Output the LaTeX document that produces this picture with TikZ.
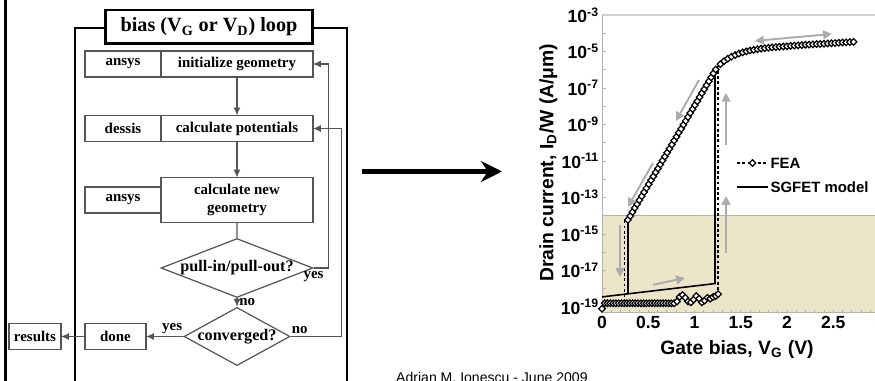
\documentclass[tikz,border=0pt]{standalone}
\usepackage{fontspec}
\setmainfont{Liberation Serif}
\setsansfont{Liberation Sans}
\usetikzlibrary{arrows.meta, positioning, shapes.geometric}

\definecolor{offshade}{RGB}{237,229,200}
\definecolor{sweepgray}{RGB}{172,172,172}
\definecolor{boxline}{RGB}{85,85,85}

\tikzset{
  cellbox/.style={draw=boxline, line width=0.7pt, outer sep=0pt, inner sep=0pt, minimum height=0.52cm, font=\fontsize{8.5}{10.2}\selectfont\bfseries},
  testbox/.style={draw=boxline, line width=0.7pt, diamond, inner sep=0pt, font=\fontsize{9.2}{11}\selectfont\bfseries},
  flowline/.style={draw=boxline, line width=0.7pt, -{Latex[length=4.5pt,width=4pt]}},
  flowtag/.style={font=\fontsize{8.5}{10}\selectfont\bfseries, inner sep=1pt},
  loopframe/.style={line width=1.7pt},
  bigarrow/.style={line width=3.4pt, -{Stealth[length=12pt,width=12pt]}},
  sweep/.style={sweepgray, line width=1.1pt, -{Triangle[length=5pt,width=5pt]}},
  ticklab/.style={font=\sffamily\bfseries\fontsize{10}{12}\selectfont},
  axislab/.style={font=\sffamily\bfseries\fontsize{11}{13}\selectfont},
  legtext/.style={font=\sffamily\bfseries\fontsize{8.5}{10}\selectfont, inner sep=1pt},
  model/.style={line width=0.9pt},
  fealine/.style={line width=0.8pt, dash pattern=on 1.6pt off 1.4pt},
  feamark/.style={draw=black, fill=white, line width=0.7pt},
}
\newcommand{\feamark}[1]{\draw[feamark] #1 ++(-0.065cm,0cm) -- ++(0.065cm,0.065cm) -- ++(0.065cm,-0.065cm) -- ++(-0.065cm,-0.065cm) -- cycle;}

\begin{document}
\begin{tikzpicture}[x=0.02cm, y=-0.02cm]
\useasboundingbox (0,0) rectangle (875,381);

% page edge and loop frame
\draw[loopframe] (5.5,-10) -- (5.5,400);
\draw[loopframe] (75,400) -- (75,28) -- (347,28) -- (347,400);
\node[draw, loopframe, fill=white, minimum width=4.16cm, minimum height=0.68cm, font=\fontsize{11.5}{13}\selectfont\bfseries] (title) at (209,27) {bias (V\textsubscript{G} or V\textsubscript{D}) loop};

% solver steps
\node[cellbox, minimum width=1.52cm] (tool1) at (123,64) {ansys};
\node[cellbox, minimum width=3.04cm, right=0pt of tool1] (init) {initialize geometry};
\node[cellbox, minimum width=1.52cm] (tool2) at (123,128.5) {dessis};
\node[cellbox, minimum width=3.04cm, right=0pt of tool2] (pot) {calculate potentials};
\node[cellbox, minimum width=1.52cm] (tool3) at (123,200) {ansys};
\node[cellbox, minimum width=3.04cm, minimum height=0.9cm, align=center, right=0pt of tool3] (geom) {calculate new\\geometry};

% decisions
\node[testbox, aspect=2.58, minimum width=3.04cm, minimum height=1.18cm] (pull) at (237,268) {pull-in/pull-out?};
\node[testbox, aspect=1.82, minimum width=2cm, minimum height=1.1cm] (conv) at (237,336.5) {converged?};
\node[cellbox, minimum width=1.22cm] (done) at (115.5,336.5) {done};
\node[cellbox, minimum width=1.04cm] (res) at (35,336.5) {results};

% flow
\draw[flowline] (init) -- (pot);
\draw[flowline] (pot) -- (geom);
\draw[flowline, -] (geom) -- (pull);
\draw[flowline] (pull) -- node[flowtag, right] {no} (conv);
\draw[flowline] (pull.east) -- ++(15,0) |- (init.east);
\node[flowtag, below=1pt of pull.east] (yes1) {yes};
\draw[flowline] (conv.east) -- node[flowtag, above, pos=0.18] {no} ++(51,0) |- (pot.east);
\draw[flowline] (conv.west) -- node[flowtag, above, pos=0.3] {yes} (done.east);
\draw[flowline] (done) -- (res);

% arrow to results
\coordinate (flowout) at (362,171.5);
\coordinate (plotin) at (502,171.5);
\draw[bigarrow] (flowout) -- (plotin);

% I_D - V_G hysteresis
\begin{scope}[shift={(602,-39.75)}, x=1.85cm, y=0.365cm]
\fill[offshade] (0,-14) rectangle (3,-19.3);
\draw[gray!60] (0,-14) -- (3,-14);
\draw[gray!35, line width=0.8pt] (0,-3) -- (3,-3);
\draw[gray!60] (0,-3) -- (0,-19.3) -- (3,-19.3);
\foreach \e in {-4,...,-19}
    \draw[gray!60] (0,\e) -- ++(0.04,0);
\foreach \v in {0.1,0.2,...,2.95}
    \draw[gray!60] (\v,-19.3) -- ++(0,0.15);

\foreach \e in {3,5,...,19}
    \node[ticklab, left, inner sep=1.5pt] (yt\e) at (0,-\e) {10\textsuperscript{-\e}};
\foreach \v [count=\i] in {0,0.5,1,1.5,2,2.5,3}
    \node[ticklab, below, inner sep=2pt] (xt\i) at (\v,-19.3) {\v};
\node[axislab] (xlab) at (1.46,-21.35) {Gate bias, V\textsubscript{G} (V)};
\node[axislab, rotate=90] (ylab) at (-0.58,-11.1) {Drain current, I\textsubscript{D}/W (A/μm)};

% SGFET model
\draw[model] (0,-18.45) -- (1.222,-17.72) -- (1.222,-6.05);
\draw[model] (0.281,-18.28) -- (0.281,-14.23) -- (1.24,-5.9) -- plot[domain=1.24:2.7, samples=40] (\x, {-4.92+0.3*(\x-1.24)-0.98*exp(-(\x-1.24)/0.184)});

% FEA
\draw[fealine] (0.245,-14.25) -- (0.245,-18.8);
\draw[fealine] (1.254,-18.35) -- (1.254,-5.95);
\feamark{(0,-19.1)}
\foreach \v in {0.03,0.06,...,0.79}
    {\feamark{(\v,-18.8)}}
\foreach \v/\l in {0.81/-18.7, 0.84/-18.45, 0.87/-18.35, 0.9/-18.5, 0.93/-18.7, 0.96/-18.75, 0.99/-18.6, 1.02/-18.4, 1.05/-18.55, 1.08/-18.75, 1.11/-18.65, 1.14/-18.5, 1.17/-18.55, 1.2/-18.45, 1.23/-18.4, 1.255/-18.3}
    {\feamark{(\v,\l)}}
\foreach \v in {0.28,0.305,...,1.25}
    {\feamark{(\v,{-14.23+8.68*(\v-0.28)})}}
\foreach \v in {1.28,1.32,...,2.73}
    {\feamark{(\v,{-4.92+0.3*(\v-1.24)-0.98*exp(-(\v-1.24)/0.184)})}}

% sweep direction
\draw[sweep, {Triangle[length=5pt,width=5pt]}-{Triangle[length=5pt,width=5pt]}] (1.654,-4.42) -- (2.486,-4.04);
\draw[sweep] (1.049,-6.56) -- (0.80,-8.81);
\draw[sweep] (0.551,-11.11) -- (0.281,-13.52);
\draw[sweep] (1.341,-10.12) -- (1.341,-7.27);
\draw[sweep] (1.341,-16.04) -- (1.341,-12.92);
\draw[sweep] (0.195,-14.5) -- (0.195,-17.36);
\draw[sweep] (0.551,-17.79) -- (0.897,-17.41);

% legend
\draw[fealine] (1.46,-11.11) -- (1.795,-11.11);
\feamark{(1.628,-11.11)}
\node[legtext, right] (legfea) at (1.8,-11.11) {FEA};
\draw[model] (1.46,-12.42) -- (1.795,-12.42);
\node[legtext, right] (legmod) at (1.8,-12.42) {SGFET model};
\end{scope}

\node[font=\sffamily\fontsize{8}{10}\selectfont, anchor=base west] (credit) at (390,382) {Adrian M. Ionescu - June 2009};
\end{tikzpicture}
\end{document}
